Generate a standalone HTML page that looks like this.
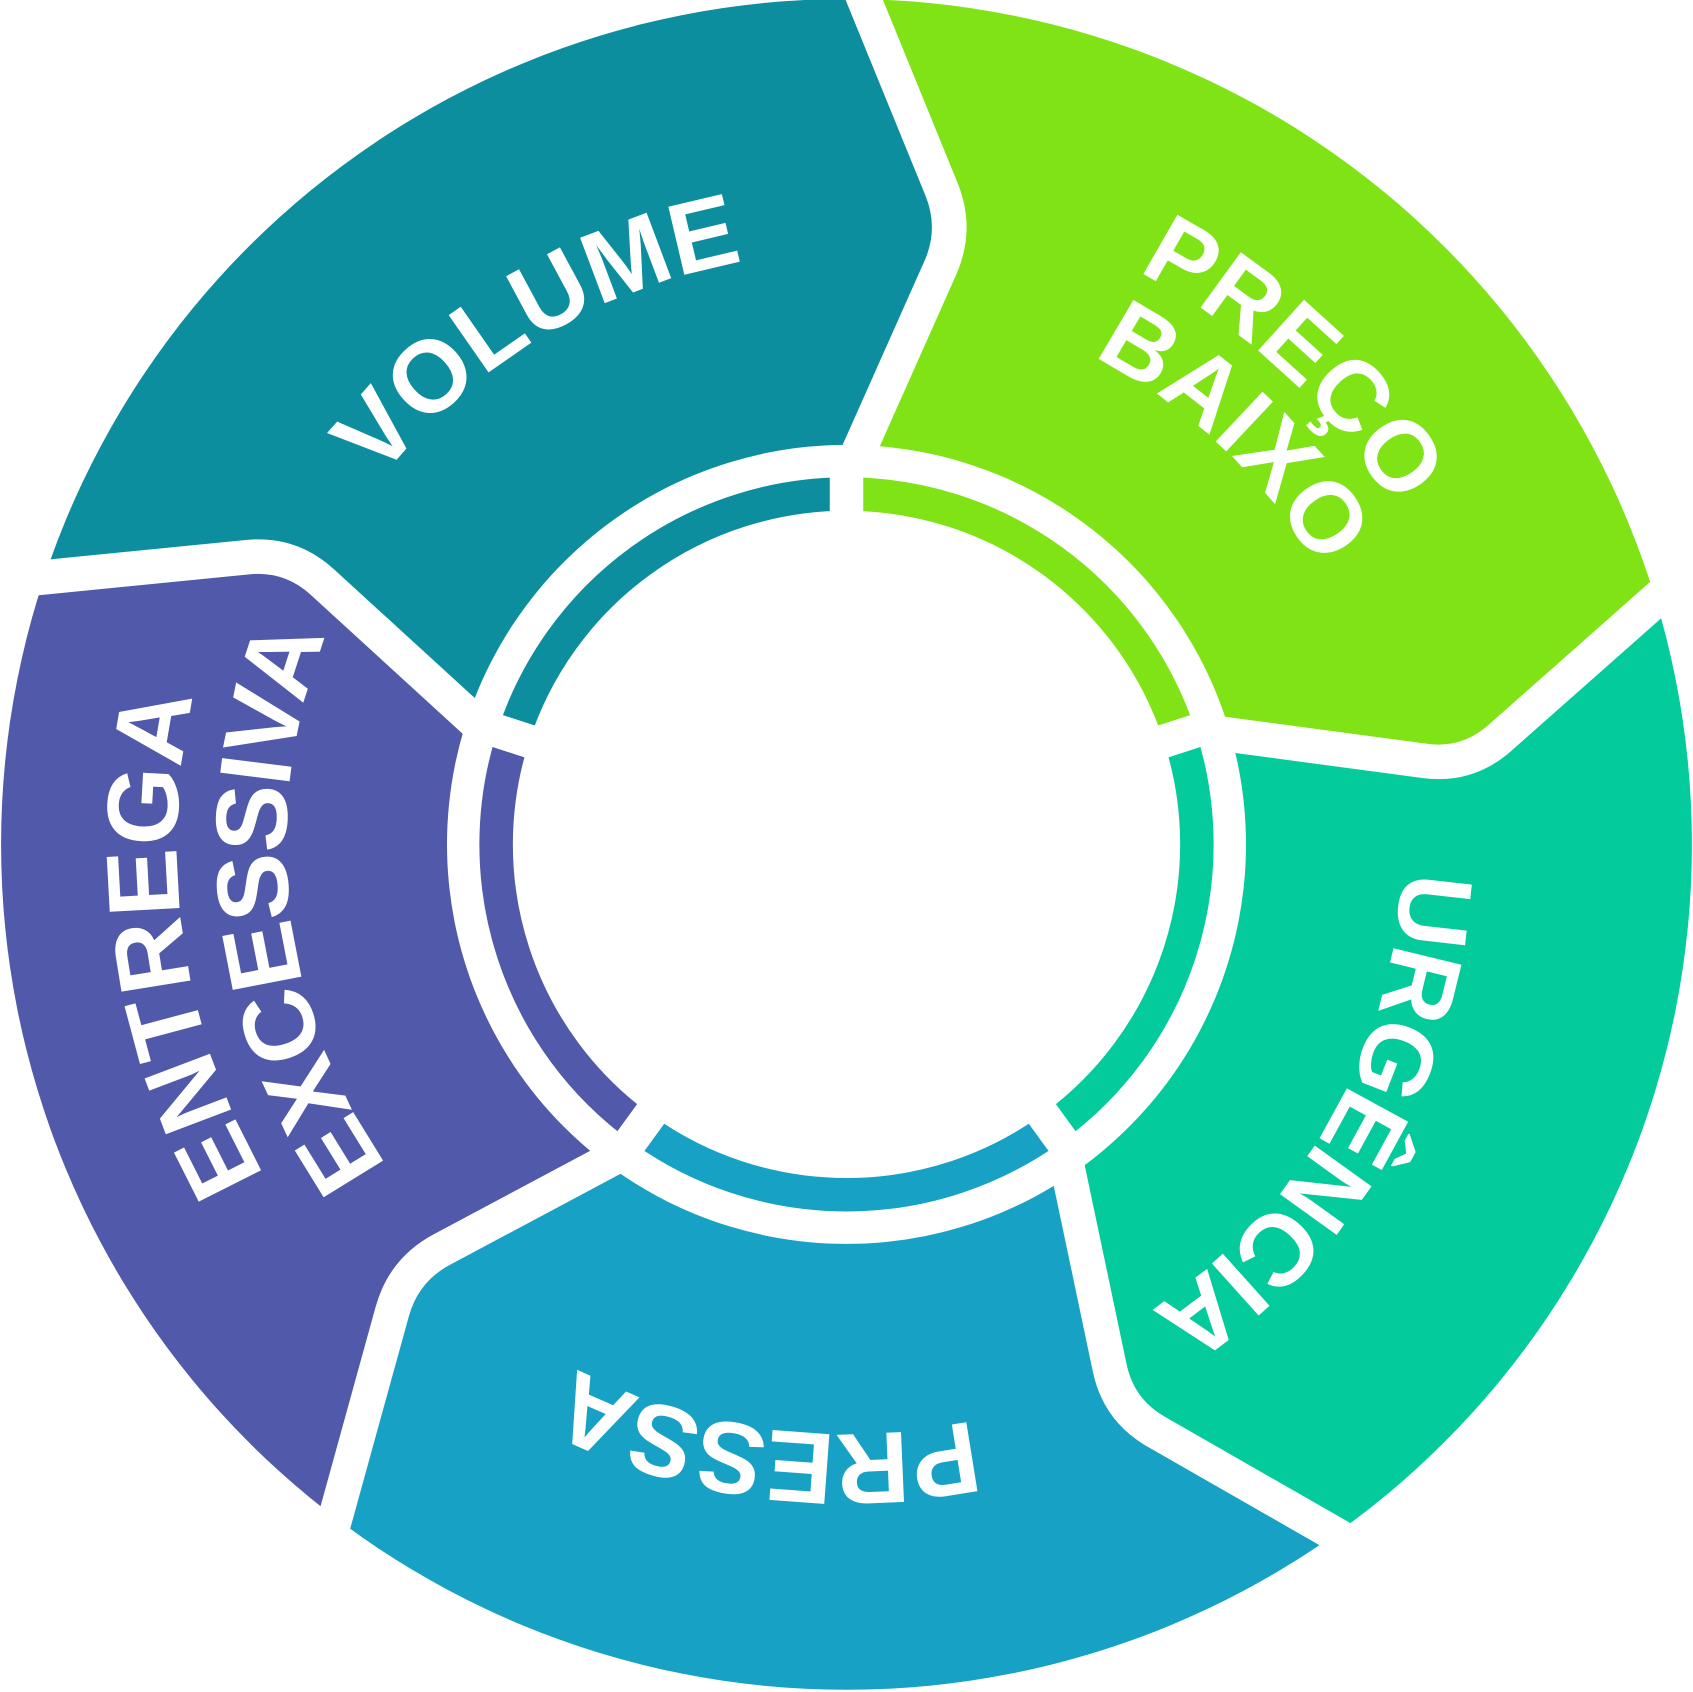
<!DOCTYPE html>
<html>
<head>
<meta charset="utf-8">
<style>
  html, body { margin: 0; padding: 0; background: #ffffff; overflow: hidden; width: 1693px; height: 1692px; }
  #wrap { position: relative; width: 1693px; height: 1692px; overflow: hidden; }
  svg { display: block; overflow: hidden; }
  .lbl { fill: #ffffff; font-family: "Liberation Sans", Arial, sans-serif; font-weight: bold; }
</style>
</head>
<body>
<div id="wrap">
<svg xmlns="http://www.w3.org/2000/svg" width="1693" height="1692" viewBox="0 0 1568 1567">
  <defs>
    <clipPath id="outer">
      <circle cx="784" cy="782" r="783"/>
    </clipPath>
    <path id="c548" d="M 784,234 A 548 548 0 1 1 784,1330 A 548 548 0 1 1 784,234"/>
    <path id="c595" d="M 784,187 A 595 595 0 1 1 784,1377 A 595 595 0 1 1 784,187"/>
    <path id="c506" d="M 784,276 A 506 506 0 1 1 784,1288 A 506 506 0 1 1 784,276"/>
    <path id="c515" d="M 784,267 A 515 515 0 1 1 784,1297 A 515 515 0 1 1 784,267"/>
    <path id="c546" d="M 784,236 A 546 546 0 1 1 784,1328 A 546 546 0 1 1 784,236"/>
    <path id="c620" d="M 784,162 A 620 620 0 1 1 784,1402 A 620 620 0 1 1 784,162"/>
    <path id="c519" d="M 784,263 A 519 519 0 1 1 784,1301 A 519 519 0 1 1 784,263"/>
  </defs>

  <rect x="0" y="0" width="1568" height="1567" fill="#ffffff"/>

  <!-- outer segments -->
  <g clip-path="url(#outer)">
    <polygon fill="#7FE315" points="784,782 797,414 887,212 796.2,-10.6 1568,0 1540.65,549.35 1359,710 1135,680"/>
    <polygon fill="#03CB9B" points="784,782 1135,680 1359,710 1540.65,549.35 1568,549.35 1568,1567 1244.95,1425.7 1036,1306 989.5,1085"/>
    <polygon fill="#17A2C5" points="784,782 989.5,1085 1036,1306 1244.95,1425.7 1244.95,1567 307.85,1567 307.85,1415.4 374,1176 561.5,1076"/>
    <polygon fill="#5059AA" points="784,782 561.5,1076 374,1176 307.85,1415.4 0,1567 0,535.6 31.2,535.6 269,512 433,662"/>
    <polygon fill="#0C8E9F" points="784,782 433,662 269,512 31.2,535.6 0,535.6 0,0 796.2,-10.6 887,212 797,414"/>
  </g>

  <!-- white boundaries between outer segments -->
  <g fill="none" stroke="#ffffff" stroke-width="32" stroke-linecap="butt" stroke-linejoin="round">
    <path d="M 783.2,-42.4 L 871.9,175 Q 887,212 870.7,248.5 L 788,434.2"/>
    <path d="M 1566.6,526.4 L 1389,683.5 Q 1359,710 1319.4,704.7 L 1112.6,677"/>
    <path d="M 1274.8,1442.8 L 1070.7,1325.9 Q 1036,1306 1027.8,1266.9 L 984.85,1062.9"/>
    <path d="M 298.4,1449.6 L 363.3,1214.6 Q 374,1176 409.3,1157.2 L 580.25,1066"/>
    <path d="M -2.8,539 L 229.2,516 Q 269,512 298.5,539 L 449.4,677"/>
  </g>

  <!-- inner white disc -->
  <circle cx="784" cy="782" r="370" fill="#ffffff"/>

  <!-- thin inner ring -->
  <g fill="none" stroke-width="31" stroke-linecap="butt">
    <path stroke="#0C8E9F" d="M 475.38,681.72 A 324.5 324.5 0 0 1 784,457.5"/>
    <path stroke="#7FE315" d="M 784,457.5 A 324.5 324.5 0 0 1 1092.62,681.72"/>
    <path stroke="#03CB9B" d="M 1092.62,681.72 A 324.5 324.5 0 0 1 974.74,1044.53"/>
    <path stroke="#17A2C5" d="M 974.74,1044.53 A 324.5 324.5 0 0 1 593.26,1044.53"/>
    <path stroke="#5059AA" d="M 593.26,1044.53 A 324.5 324.5 0 0 1 475.38,681.72"/>
  </g>
  <!-- ring gaps -->
  <g stroke="#ffffff" stroke-width="31" stroke-linecap="butt">
    <line x1="784" y1="490" x2="784" y2="424"/>
    <line x1="1064.56" y1="690.84" x2="1121.62" y2="672.30"/>
    <line x1="957.40" y1="1020.66" x2="992.66" y2="1069.20"/>
    <line x1="610.60" y1="1020.66" x2="575.34" y2="1069.20"/>
    <line x1="503.44" y1="690.84" x2="446.38" y2="672.30"/>
  </g>

  <!-- labels -->
  <text class="lbl" font-size="94" text-anchor="middle">
    <textPath href="#c548" startOffset="3147">VOLUME</textPath>
  </text>
  <text class="lbl" font-size="92" text-anchor="middle">
    <textPath href="#c595" startOffset="443">PREÇO</textPath>
  </text>
  <text class="lbl" font-size="92" text-anchor="middle">
    <textPath href="#c506" startOffset="382">BAIXO</textPath>
  </text>
  <text class="lbl" font-size="94" text-anchor="middle" letter-spacing="-2">
    <textPath href="#c515" startOffset="1076">URGÊNCIA</textPath>
  </text>
  <text class="lbl" font-size="94" text-anchor="middle" letter-spacing="-1.5">
    <textPath href="#c546" startOffset="1786">PRESSA</textPath>
  </text>
  <text class="lbl" font-size="94" text-anchor="middle">
    <textPath href="#c620" startOffset="2830">ENTREGA</textPath>
  </text>
  <text class="lbl" font-size="94" text-anchor="middle" letter-spacing="-2">
    <textPath href="#c519" startOffset="2385">EXCESSIVA</textPath>
  </text>
</svg>
</div>
</body>
</html>
